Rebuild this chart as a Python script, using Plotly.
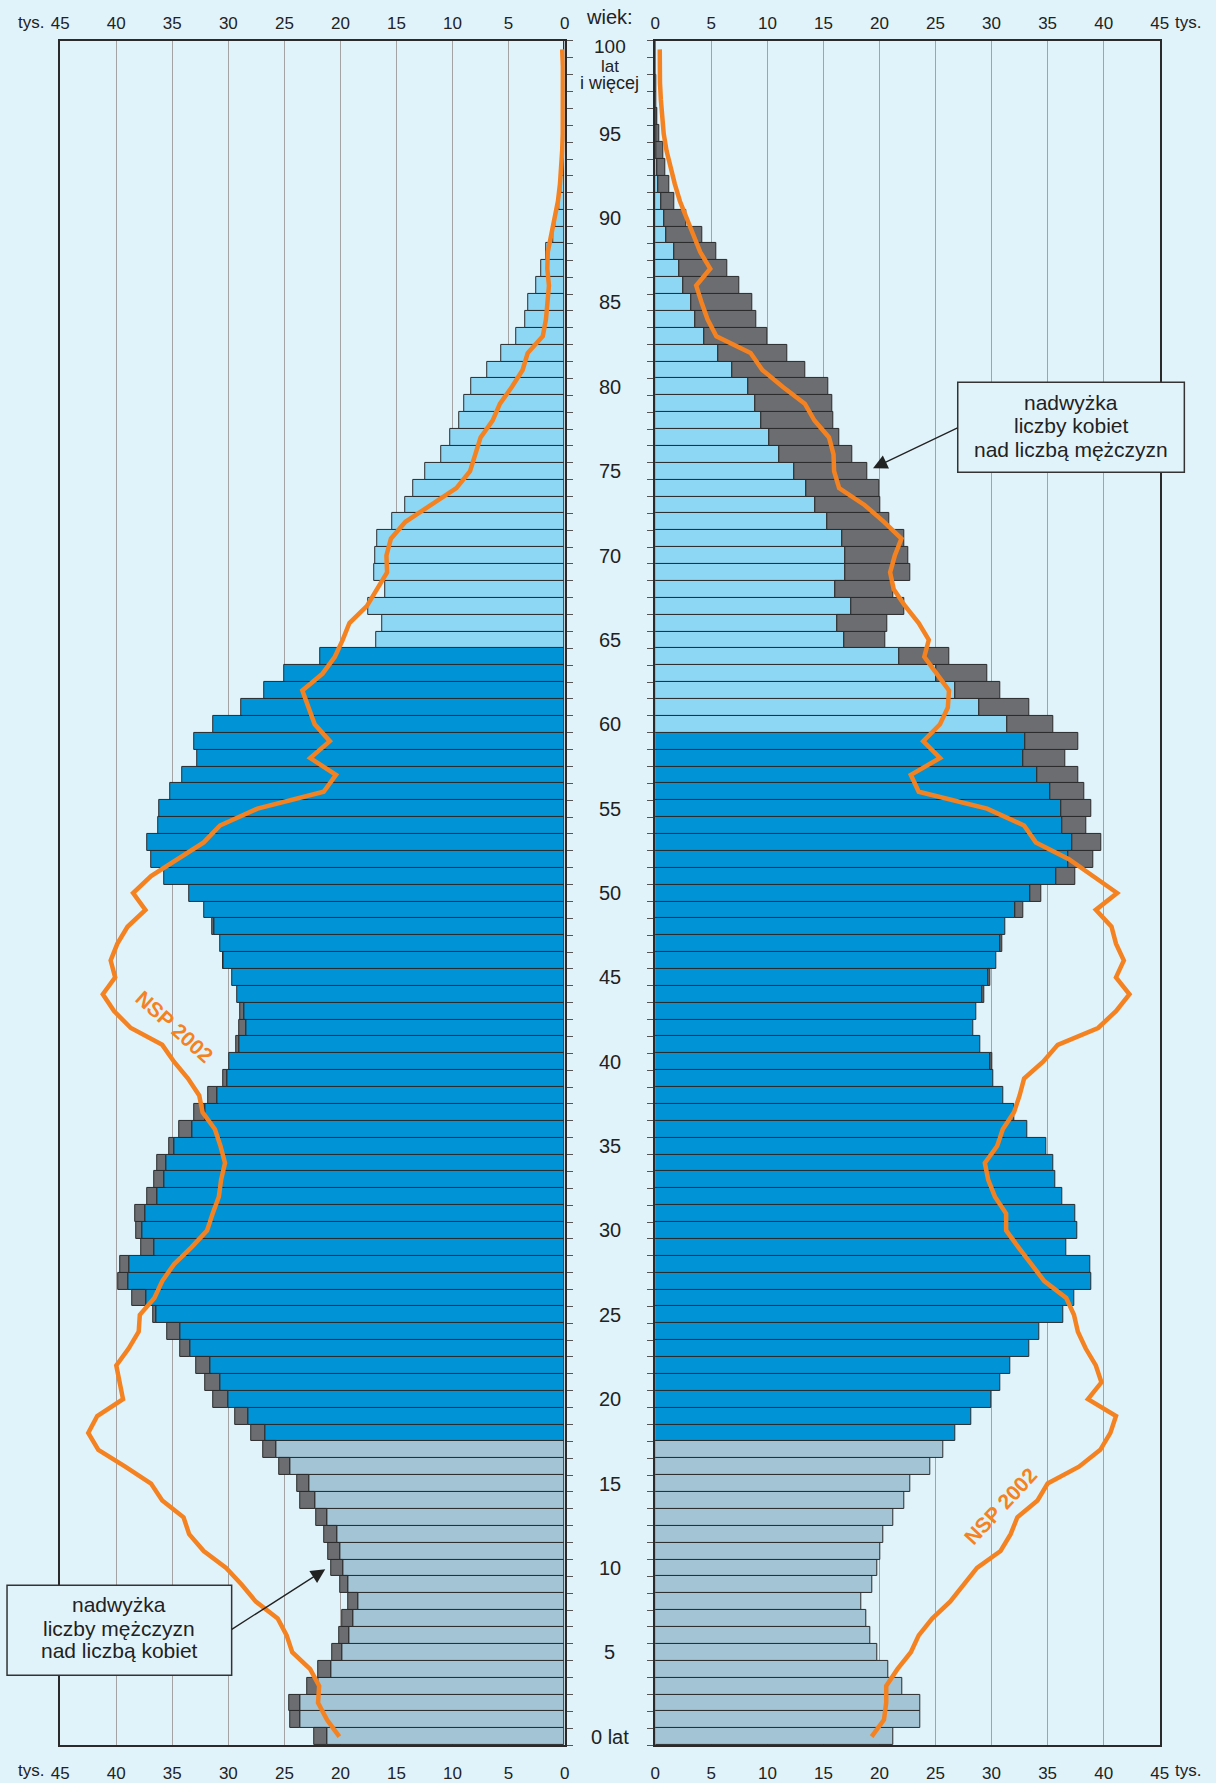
import plotly.graph_objects as go

# ---------------- data (thousands) ----------------
ages = list(range(101))

men = [22.3, 24.46, 24.57, 22.97, 21.96, 20.74, 20.12, 19.87, 19.35, 19.98,
       20.85, 21.09, 21.44, 22.17, 23.63, 23.9, 25.5, 26.86, 28.0, 29.43,
       31.31, 32.04, 32.87, 34.3, 35.48, 36.69, 38.6, 39.82, 39.65, 37.8,
       38.26, 38.33, 37.28, 36.6, 36.31, 35.27, 34.36, 33.08, 31.76, 30.44,
       29.9, 29.26, 29.05, 28.9, 29.2, 29.7, 30.5, 30.75, 31.44, 32.15,
       33.45, 35.75, 36.87, 37.21, 36.28, 36.2, 35.23, 34.09, 32.8, 33.04,
       31.38, 28.87, 26.8, 25.05, 21.8, 16.82, 16.26, 17.51, 16.05, 16.99,
       16.92, 16.71, 15.36, 14.25, 13.48, 12.4, 11.05, 10.2, 9.42, 8.96,
       8.34, 6.88, 5.63, 4.34, 3.54, 3.23, 2.54, 2.1, 1.67, 1.0,
       0.8, 0.5, 0.3, 0.2, 0.12, 0.08, 0.05, 0.03, 0.02, 0.01, 0.01]

women = [21.2, 23.6, 23.6, 22.0, 20.81, 19.82, 19.21, 18.83, 18.4, 19.33,
         19.78, 20.03, 20.33, 21.21, 22.22, 22.78, 24.5, 25.7, 26.73, 28.21,
         30.0, 30.77, 31.63, 33.37, 34.26, 36.4, 37.37, 38.93, 38.83, 36.65,
         37.68, 37.44, 36.35, 35.69, 35.5, 34.85, 33.2, 32.05, 31.02, 30.14,
         30.1, 29.03, 28.39, 28.63, 29.36, 29.85, 30.45, 31.0, 31.26, 32.8,
         34.43, 37.49, 39.05, 39.78, 38.46, 38.92, 38.29, 37.7, 36.55, 37.77,
         35.5, 33.36, 30.8, 29.6, 26.27, 20.53, 20.74, 22.24, 21.27, 22.76,
         22.55, 22.17, 20.9, 20.05, 19.98, 18.9, 17.55, 16.44, 15.88, 15.8,
         15.4, 13.38, 11.75, 10.0, 8.97, 8.69, 7.5, 6.45, 5.4, 4.2,
         2.73, 1.67, 1.23, 0.9, 0.7, 0.4, 0.2, 0.1, 0.06, 0.04, 0.03]

men_2002 = [20.1, 21.2, 22.0, 21.9, 22.7, 24.3, 24.8, 25.6, 27.55, 28.8,
            30.2, 32.2, 33.5, 34.0, 35.9, 36.9, 39.2, 41.6, 42.5, 41.7,
            39.4, 39.7, 40.0, 38.9, 38.0, 37.9, 36.6, 35.9, 34.85, 33.3,
            31.9, 31.4, 30.85, 30.65, 30.3, 30.7, 31.2, 32.3, 32.6, 33.6,
            34.85, 35.9, 38.7, 40.2, 41.2, 40.1, 40.5, 39.9, 39.0, 37.4,
            38.5, 36.9, 34.6, 32.2, 30.75, 27.4, 21.5, 20.4, 22.7, 20.95,
            22.3, 22.85, 23.4, 21.6, 20.5, 19.8, 19.2, 17.65, 16.8, 15.84,
            15.9, 15.5, 14.2, 11.9, 9.66, 8.44, 8.0, 7.5, 6.43, 5.77,
            4.7, 3.75, 3.3, 1.95, 1.67, 1.5, 1.4, 1.55, 1.5, 1.2,
            0.9, 0.6, 0.42, 0.3, 0.22, 0.17, 0.15, 0.14, 0.14, 0.16, 0.22]

women_2002 = [19.3, 20.4, 20.6, 20.6, 21.6, 22.8, 23.5, 24.7, 26.3, 27.5,
              28.7, 30.8, 31.7, 32.3, 34.1, 35.0, 37.8, 39.7, 40.6, 41.1,
              38.6, 39.8, 39.3, 38.4, 37.7, 37.35, 36.66, 34.7, 33.5, 32.4,
              31.3, 31.3, 30.3, 29.7, 29.4, 30.5, 31.0, 32.0, 32.5, 32.9,
              34.6, 35.9, 39.5, 41.1, 42.3, 41.1, 41.8, 41.1, 40.7, 39.3,
              41.2, 39.0, 36.9, 33.95, 32.9, 29.6, 23.5, 22.8, 25.4, 23.9,
              25.4, 26.1, 26.2, 25.1, 24.0, 24.4, 23.5, 22.3, 21.27, 20.95,
              21.37, 21.96, 20.4, 18.66, 16.4, 15.95, 15.9, 15.5, 14.2, 13.34,
              11.36, 9.55, 8.5, 5.45, 4.66, 4.13, 3.65, 4.9, 4.0, 3.4,
              2.8, 2.2, 1.75, 1.35, 1.0, 0.75, 0.6, 0.5, 0.42, 0.4, 0.4]

x_tick_vals = [0, 5, 10, 15, 20, 25, 30, 35, 40, 45]
x_tick_text = ["0", "5", "10", "15", "20", "25", "30", "35", "40", "45"]
age_labels = {95: "95", 90: "90", 85: "85", 80: "80", 75: "75", 70: "70",
              65: "65", 60: "60", 55: "55", 50: "50", 45: "45", 40: "40",
              35: "35", 30: "30", 25: "25", 20: "20", 15: "15", 10: "10", 5: "5"}

# ---------------- styling ----------------
W_PX, H_PX = 1216, 1783
BG = "#E1F3FA"
C_CHILD = "#A3C4D4"
C_WORK = "#0094D6"
C_OLD = "#8DD7F5"
C_GREY = "#6C6D70"
EDGE = "#2a2a2a"
ORANGE = "#F58220"
FONT = "Liberation Sans, Arial, Helvetica, sans-serif"
TXT = "#222"


def px(x):
    return x / W_PX


def py(y):
    return 1 - y / H_PX


men_cols = [C_CHILD if a < 18 else (C_WORK if a < 65 else C_OLD) for a in ages]
women_cols = [C_CHILD if a < 18 else (C_WORK if a < 60 else C_OLD) for a in ages]
common = [min(m, w) for m, w in zip(men, women)]
men_excess = [(m - w) if m > w else None for m, w in zip(men, women)]
women_excess = [(w - m) if w > m else None for m, w in zip(men, women)]

fig = go.Figure()
bar_line = dict(color=EDGE, width=1)
fig.add_trace(go.Bar(y=ages, x=common, orientation="h", width=1, xaxis="x", yaxis="y",
                     marker=dict(color=men_cols, line=bar_line), hoverinfo="skip"))
fig.add_trace(go.Bar(y=ages, x=men_excess, base=women, orientation="h", width=1,
                     xaxis="x", yaxis="y",
                     marker=dict(color=C_GREY, line=bar_line), hoverinfo="skip"))
fig.add_trace(go.Bar(y=ages, x=common, orientation="h", width=1, xaxis="x2", yaxis="y2",
                     marker=dict(color=women_cols, line=bar_line), hoverinfo="skip"))
fig.add_trace(go.Bar(y=ages, x=women_excess, base=men, orientation="h", width=1,
                     xaxis="x2", yaxis="y2",
                     marker=dict(color=C_GREY, line=bar_line), hoverinfo="skip"))
fig.add_trace(go.Scatter(x=men_2002, y=ages, mode="lines", xaxis="x", yaxis="y",
                         line=dict(color=ORANGE, width=4.5), hoverinfo="skip"))
fig.add_trace(go.Scatter(x=women_2002, y=ages, mode="lines", xaxis="x2", yaxis="y2",
                         line=dict(color=ORANGE, width=4.5), hoverinfo="skip"))
# carriers for the top tick-label axes
fig.add_trace(go.Scatter(x=[None], y=[None], xaxis="x3", yaxis="y", hoverinfo="skip"))
fig.add_trace(go.Scatter(x=[None], y=[None], xaxis="x4", yaxis="y2", hoverinfo="skip"))

dom_l = [px(52), px(564)]
dom_r = [px(656), px(1168)]
dom_y = [py(1748), py(41)]

xcommon = dict(tickvals=x_tick_vals, ticktext=x_tick_text, ticks="",
               tickfont=dict(family=FONT, size=17, color=TXT), zeroline=False)
frame = dict(showline=True, mirror=True, linecolor=EDGE, linewidth=2)

ycommon = dict(range=[-0.5, 100.5], domain=dom_y, showgrid=False, zeroline=False,
               ticks="outside", ticklen=6, tickwidth=1, tickcolor="#555",
               tickvals=[a - 0.5 for a in range(102)], showticklabels=False, **frame)

fig.update_layout(
    width=W_PX, height=H_PX, margin=dict(l=0, r=0, t=0, b=0),
    paper_bgcolor=BG, plot_bgcolor=BG, showlegend=False,
    barmode="overlay", bargap=0,
    font=dict(family=FONT, color=TXT),
    xaxis=dict(domain=dom_l, range=[45, 0], anchor="y", side="bottom",
               showgrid=True, gridcolor="#A3A3A3", gridwidth=1,
               ticklabelstandoff=12, **xcommon, **frame),
    xaxis3=dict(overlaying="x", range=[45, 0], anchor="y", side="top",
                showgrid=False, ticklabelstandoff=8, **xcommon),
    xaxis2=dict(domain=dom_r, range=[0, 45], anchor="y2", side="bottom",
                showgrid=True, gridcolor="#A3A3A3", gridwidth=1,
                ticklabelstandoff=12, **xcommon, **frame),
    xaxis4=dict(overlaying="x2", range=[0, 45], anchor="y2", side="top",
                showgrid=False, ticklabelstandoff=8, **xcommon),
    yaxis=dict(anchor="x", side="right", **ycommon),
    yaxis2=dict(anchor="x2", side="left", **ycommon),
)


def label(x, y, text, size, xref="paper", yref="paper", **kw):
    d = dict(x=x, y=y, xref=xref, yref=yref, text=text, showarrow=False,
             xanchor="center", yanchor="middle",
             font=dict(size=size, family=FONT, color=kw.pop("color", TXT)))
    d.update(kw)
    return d


ann = []
# age labels in the middle column
cx = px(610)
for a, t in age_labels.items():
    ann.append(label(cx, a, t, 20, yref="y"))
ann.append(label(cx, 100.15, "100", 19, yref="y"))
ann.append(label(cx, 98.98, "lat", 17, yref="y"))
ann.append(label(cx, 98.0, "i więcej", 18, yref="y"))
ann.append(label(cx, 0, "0 lat", 20, yref="y"))
ann.append(label(cx, py(17), "wiek:", 20))
# "tys." unit labels
for yy in (23, 1773):
    ann.append(label(px(38), py(yy), "tys.", 17, xanchor="right"))
    ann.append(label(px(1181), py(yy), "tys.", 17, xanchor="left"))
# NSP 2002 labels
ann.append(label(px(168), py(1028), "<b>NSP 2002</b>", 21, textangle=42, color=ORANGE))
ann.append(label(px(1006), py(1509), "<b>NSP 2002</b>", 21, textangle=-47, color=ORANGE))

# callout boxes
shapes = [
    dict(type="rect", xref="paper", yref="paper", x0=px(963), x1=px(1193),
         y0=py(473), y1=py(383), fillcolor=BG, line=dict(color="#333", width=1.5), layer="above"),
    dict(type="rect", xref="paper", yref="paper", x0=px(-2), x1=px(226),
         y0=py(1678), y1=py(1588), fillcolor=BG, line=dict(color="#333", width=1.5), layer="above"),
]
for txt, yy in (("nadwyżka", 403), ("liczby kobiet", 426), ("nad liczbą mężczyzn", 450)):
    ann.append(label(px(1078), py(yy), txt, 21))
for txt, yy in (("nadwyżka", 1607), ("liczby mężczyzn", 1631), ("nad liczbą kobiet", 1653)):
    ann.append(label(px(112), py(yy), txt, 21))
# arrows
ann.append(dict(x=px(877), y=py(469), xref="paper", yref="paper", text="",
                showarrow=True, ax=86, ay=-41, arrowhead=2, arrowsize=2.2, arrowwidth=1.3,
                arrowcolor="#222", standoff=0))
ann.append(dict(x=px(321), y=py(1572), xref="paper", yref="paper", text="",
                showarrow=True, ax=-95, ay=61, arrowhead=2, arrowsize=2.2, arrowwidth=1.3,
                arrowcolor="#222", standoff=0))

fig.update_layout(annotations=ann, shapes=shapes)
fig.write_html("out.html", config={"displayModeBar": False},
               post_script="document.body.style.margin='0px';document.body.style.overflow='hidden';")
